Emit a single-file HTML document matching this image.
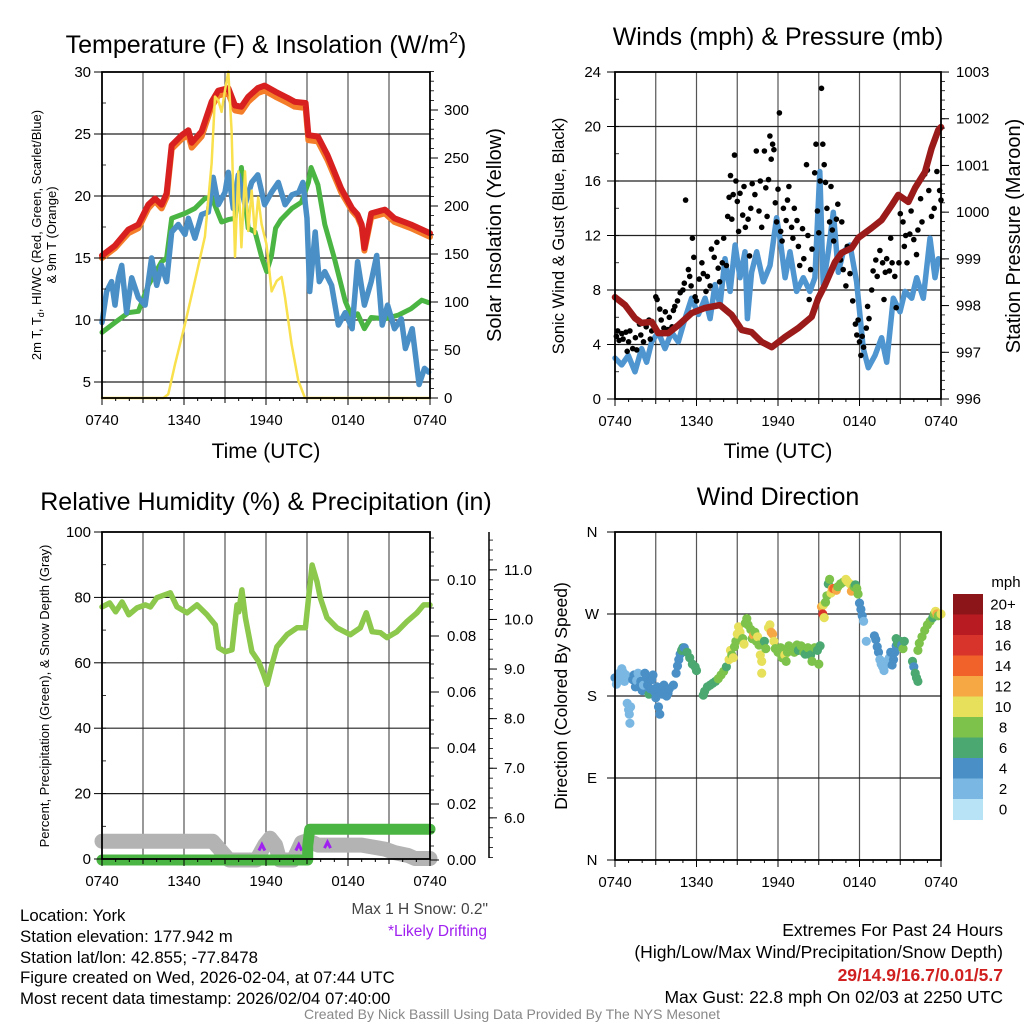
<!DOCTYPE html>
<html><head><meta charset="utf-8"><style>
html,body{margin:0;padding:0;background:#fff;}
svg{display:block;font-family:"Liberation Sans",Arial,sans-serif;}
</style></head><body>
<svg id="root" width="1024" height="1024" viewBox="0 0 1024 1024" xmlns="http://www.w3.org/2000/svg">
<rect x="0" y="0" width="1024" height="1024" fill="#fff"/>
<g id="g1"></g>
<g id="g2"></g>
<g id="g3"></g>
<g id="g4"></g>
<g id="gt">
<text x="266" y="53" font-size="25" text-anchor="middle">Temperature (F) &amp; Insolation (W/m<tspan dy="-10" font-size="16">2</tspan><tspan dy="10">)</tspan></text>
<text x="778" y="45" font-size="25" text-anchor="middle">Winds (mph) &amp; Pressure (mb)</text>
<text x="266" y="510" font-size="25" text-anchor="middle">Relative Humidity (%) &amp; Precipitation (in)</text>
<text x="778" y="505" font-size="25" text-anchor="middle">Wind Direction</text>
<text x="266" y="458" font-size="21" text-anchor="middle">Time (UTC)</text>
<text x="778" y="458" font-size="21" text-anchor="middle">Time (UTC)</text>
<text transform="translate(41,235) rotate(-90)" font-size="13" text-anchor="middle">2m T, T<tspan dy="3" font-size="9">d</tspan><tspan dy="-3">, HI/WC (Red, Green, Scarlet/Blue)</tspan></text>
<text transform="translate(56,235) rotate(-90)" font-size="13" text-anchor="middle">&amp; 9m T (Orange)</text>
<text transform="translate(501,235) rotate(-90)" font-size="20" text-anchor="middle">Solar Insolation (Yellow)</text>
<text transform="translate(564,236) rotate(-90)" font-size="16.5" text-anchor="middle">Sonic Wind &amp; Gust (Blue, Black)</text>
<text transform="translate(1020,236) rotate(-90)" font-size="20" text-anchor="middle">Station Pressure (Maroon)</text>
<text transform="translate(49,696) rotate(-90)" font-size="13" text-anchor="middle">Percent, Precipitation (Green), &amp; Snow Depth (Gray)</text>
<text transform="translate(567,696) rotate(-90)" font-size="17.5" text-anchor="middle">Direction (Colored By Speed)</text>
<text x="488" y="914" font-size="15.5" fill="#444" text-anchor="end">Max 1 H Snow: 0.2"</text>
<text x="487" y="936" font-size="15.5" fill="#a020f0" text-anchor="end">*Likely Drifting</text>
<g font-size="16.8">
<text x="20" y="921">Location: York</text>
<text x="20" y="942">Station elevation: 177.942 m</text>
<text x="20" y="963">Station lat/lon: 42.855; -77.8478</text>
<text x="20" y="983">Figure created on Wed, 2026-02-04, at 07:44 UTC</text>
<text x="20" y="1004">Most recent data timestamp: 2026/02/04 07:40:00</text>
</g>
<g font-size="17.5" text-anchor="end">
<text x="1003" y="936">Extremes For Past 24 Hours</text>
<text x="1003" y="958">(High/Low/Max Wind/Precipitation/Snow Depth)</text>
<text x="1003" y="981" font-weight="bold" fill="#d02020">29/14.9/16.7/0.01/5.7</text>
<text x="1003" y="1003">Max Gust: 22.8 mph On 02/03 at 2250 UTC</text>
</g>
<text x="512" y="1019" font-size="14" fill="#888" text-anchor="middle">Created By Nick Bassill Using Data Provided By The NYS Mesonet</text>
</g>
</svg>
<script>
// ---------- data ----------
const xTickLabels = ["0740","1340","1940","0140","0740"];
const tempTicks = [5,10,15,20,25,30];
const solarTicks = [0,50,100,150,200,250,300];
const windTicks = [0,4,8,12,16,20,24];
const pressTicks = [996,997,998,999,1000,1001,1002,1003];
const rhTicks = [0,20,40,60,80,100];
const precipTicks = [0,0.02,0.04,0.06,0.08,0.10];
const snowTicks = [6,7,8,9,10,11];
const dirLabels = ["N","E","S","W","N"];
const dirTicks = [0,90,180,270,360];
const cbarLabels = ["20+","18","16","14","12","10","8","6","4","2","0"];
const cbarColors = ["#8b1518","#b81c22","#d9342b","#f0622a","#f6a845","#e6e05a","#7dc24a","#4aa870","#4a8fc6","#7ab8e3","#b8e2f6"];

const redT = [0,0.95,1.93,2.66,3.39,3.88,4.36,4.73,5.1,5.83,6.32,6.56,7.29,8.02,8.51,9.24,9.73,10.2,10.7,11.4,11.9,12.7,13.6,14.1,14.9,15.1,15.8,16.5,17.5,18.3,18.7,19.0,19.2,19.7,20.7,21.4,22.6,23.8,24];
const redV = [15.2,16.0,17.3,17.7,19.3,19.8,19.3,20.2,24.1,24.9,25.3,24.3,25.2,27.6,28.5,28.7,27.3,27.2,28.0,28.7,28.9,28.4,27.9,27.6,27.5,24.9,24.8,23.3,20.6,19.0,18.5,17.7,15.8,18.6,18.9,18.2,17.7,17.1,17.0];
const orangeV = [15.0,15.8,17.0,17.4,19.0,19.6,19.0,19.9,23.8,24.6,24.9,23.9,24.8,27.2,28.1,28.3,26.9,26.8,27.6,28.3,28.5,28.0,27.5,27.2,27.1,24.5,24.4,22.9,20.3,18.8,18.3,17.5,15.6,18.3,18.6,17.9,17.4,16.8,16.7];
const greenT = [0,0.95,1.93,2.66,3.39,4.36,4.73,5.1,6.07,6.8,7.53,8.02,8.75,9.24,9.73,10.2,10.7,11.2,11.7,12.05,12.4,12.7,13.1,13.9,14.6,15.1,15.3,15.8,16.3,17.0,17.8,18.3,18.7,19.2,19.7,20.7,21.7,22.6,23.4,23.9];
const greenV = [9.0,9.8,10.6,10.7,12.8,14.7,15.0,18.2,18.6,19.0,19.8,19.9,17.9,18.1,18.2,22.3,17.4,17.1,15.0,13.9,15.2,17.4,18.1,19.0,19.5,21.1,22.3,20.9,17.7,15.0,11.5,10.2,10.5,9.3,10.2,10.1,10.4,10.9,11.6,11.4];
const blueT = [0,0.34,0.7,0.95,1.2,1.44,1.8,2.17,2.66,3.15,3.63,4.0,4.36,4.73,5.1,5.58,6.07,6.32,6.8,7.29,7.78,8.14,8.51,9.0,9.24,9.61,9.97,10.46,10.95,11.4,11.9,12.4,12.9,13.4,13.9,14.4,14.7,15.0,15.2,15.6,15.9,16.3,16.8,17.3,17.8,18.3,18.7,19.2,19.7,20.1,20.5,20.9,21.4,21.9,22.2,22.7,23.2,23.6,23.9];
const blueV = [9.8,12.3,13.1,11.2,13.4,14.4,10.6,13.4,11.8,11.2,15.0,12.8,14.4,13.1,17.1,17.7,16.9,18.2,16.6,18.5,18.7,21.5,19.3,20.3,21.9,19.0,21.7,19.3,21.1,21.7,19.3,20.3,21.1,19.3,20.1,20.3,21.1,18.2,12.3,17.1,13.1,13.9,12.8,9.6,10.6,9.3,14.7,11.2,13.1,15.2,9.6,11.2,9.3,10.1,7.7,9.3,4.8,6.1,5.8];
const solarT = [0,4.49,4.85,5.34,6.07,6.8,7.53,8.02,8.27,8.51,8.75,8.99,9.24,9.48,9.73,9.97,10.2,10.46,10.7,10.95,11.19,11.43,11.68,12.04,12.41,12.78,13.14,13.39,13.87,14.36,14.85,24];
const solarV = [0,0,4,35,77,122,168,244,314,310,298,320,340,278,147,236,157,236,174,216,171,209,181,160,111,122,126,105,56,18,0,0];

const windT = [0,0.49,0.98,1.47,1.96,2.33,2.7,3.19,3.68,4.17,4.66,5.15,5.64,6.14,6.63,7.0,7.36,7.73,8.1,8.47,8.84,9.2,9.57,9.75,10.06,10.43,10.92,11.41,11.9,12.15,12.52,12.88,13.37,13.86,14.35,14.72,15.08,15.33,15.7,16.07,16.44,16.81,17.3,17.79,18.28,18.65,19.14,19.63,20.0,20.49,20.98,21.35,21.84,22.21,22.7,23.19,23.56,23.81];
const windV = [3.0,2.5,3.2,2.0,3.7,2.7,4.2,4.9,3.7,4.9,4.2,5.9,7.4,6.2,7.4,5.9,8.4,6.9,10.3,7.9,11.3,8.9,10.8,5.9,9.3,10.8,8.6,9.8,13.3,11.8,8.9,10.8,7.9,8.9,7.9,8.9,16.7,8.4,10.8,13.7,9.3,10.8,11.3,8.6,3.7,2.3,3.2,4.5,2.7,7.4,6.4,7.9,7.4,8.9,7.4,11.8,8.9,10.3];
const pressT = [0,0.74,1.47,1.96,2.7,3.19,3.93,4.66,5.64,6.63,7.73,8.59,9.33,10.06,10.8,11.54,12.52,13.5,14.48,14.97,15.46,16.2,16.69,17.42,17.91,18.89,19.63,20.37,20.86,21.6,22.09,22.82,23.31,23.8,24];
const pressV = [998.18,998.01,997.73,997.63,997.65,997.41,997.41,997.58,997.84,997.95,998.01,997.8,997.48,997.43,997.22,997.11,997.33,997.52,997.76,998.16,998.44,998.93,999.13,999.23,999.45,999.66,999.83,1000.15,1000.37,1000.22,1000.52,1000.86,1001.37,1001.76,1001.82];
const gustT = [0.1,0.2,0.3,0.5,0.6,0.8,0.9,1.0,1.1,1.3,1.5,1.6,1.8,1.9,2.1,2.3,2.5,2.6,2.7,3.0,3.1,3.3,3.4,3.5,3.6,3.7,3.9,4.0,4.2,4.3,4.4,4.6,4.8,5.0,5.1,5.2,5.4,5.5,5.6,5.7,5.8,5.9,6.0,6.2,6.4,6.5,6.7,6.8,7.0,7.1,7.3,7.5,7.6,7.7,7.9,8.0,8.2,8.3,8.4,8.5,8.6,8.7,8.8,8.9,9.0,9.1,9.2,9.4,9.5,9.6,9.8,9.9,10.0,10.1,10.3,10.4,10.6,10.7,10.8,11.0,11.1,11.2,11.3,11.4,11.5,11.6,11.7,11.8,11.9,12.0,12.1,12.2,12.3,12.4,12.6,12.7,12.8,13.0,13.1,13.2,13.4,13.5,13.6,13.8,13.9,14.1,14.2,14.3,14.4,14.5,14.7,14.8,14.9,15.0,15.1,15.2,15.3,15.4,15.5,15.6,15.8,15.9,16.0,16.1,16.3,16.4,16.6,16.7,16.8,17.0,17.1,17.3,17.5,17.7,17.8,17.9,18.0,18.1,18.2,18.3,18.5,18.6,18.7,18.9,19.0,19.2,19.3,19.5,19.7,19.8,19.9,20.0,20.2,20.3,20.4,20.6,20.7,20.9,21.0,21.2,21.3,21.4,21.5,21.7,21.8,22.0,22.2,22.3,22.5,22.6,22.8,23.0,23.1,23.3,23.5,23.7,23.9,24.0];
const gustV = [4.6,5.0,4.3,4.8,4.4,4.9,3.5,4.2,5.0,3.7,4.5,3.6,5.5,4.7,4.2,5.3,5.8,4.4,5.0,7.5,7.3,6.6,5.8,4.8,5.2,6.4,5.1,6.0,5.3,6.5,6.8,7.2,7.8,8.0,8.5,14.6,9.5,9.0,8.3,11.8,10.4,7.5,7.2,8.8,10.0,9.2,7.9,9.0,8.3,11.0,10.4,11.5,9.6,8.6,10.0,11.8,9.8,13.4,14.8,16.4,13.2,15.0,17.9,16.0,14.5,12.3,15.1,13.5,15.6,12.6,13.2,10.5,14.0,15.8,15.0,18.2,13.8,16.0,12.6,18.2,15.5,13.4,16.1,19.3,17.6,18.7,18.3,14.4,13.0,15.4,21.0,12.3,11.6,14.0,13.1,14.6,15.6,12.6,11.8,14.0,13.1,11.2,9.8,12.5,10.3,17.2,12.0,7.3,9.5,11.0,16.6,18.7,13.8,12.2,16.0,22.8,18.7,17.2,15.9,14.0,13.0,15.6,12.4,11.6,13.2,14.3,10.2,13.0,9.5,8.3,11.2,9.2,7.2,5.5,4.7,5.8,4.2,3.2,4.6,3.8,5.2,6.8,5.9,8.0,9.4,10.2,9.0,10.9,10.0,7.3,9.3,10.3,9.4,11.8,10.0,9.0,6.7,10.0,13.6,13.0,11.2,12.0,10.0,12.1,13.8,11.7,10.6,12.4,14.7,13.0,16.5,16.8,15.3,13.4,14.0,16.7,15.3,14.6];

const rhT = [0,0.56,1.0,1.47,1.96,2.56,3.18,3.54,4.02,5.0,5.49,6.22,6.95,7.68,8.29,8.53,9.02,9.51,9.88,10.0,10.24,10.49,10.97,11.46,11.83,12.07,12.44,12.8,13.54,14.27,14.88,15.12,15.37,15.73,15.97,16.46,17.19,18.17,18.9,19.34,19.76,20.37,20.85,21.58,22.31,23.05,23.54,24];
const rhV = [77.1,78.3,75.6,78.6,74.7,76.8,77.7,77.1,79.9,81.4,77.1,75.3,77.7,74.7,71.6,64.6,63.4,64.0,77.7,75.6,82.3,73.8,63.4,60.4,56.4,53.4,59.5,64.9,68.6,70.7,70.7,79.9,89.9,84.8,79.9,73.8,70.7,68.6,70.7,75.3,69.5,69.2,67.7,69.5,72.6,75.3,77.7,77.7];
const precipT = [0,15.05,15.05,15.2,24];
const precipV = [0,0,0.005,0.011,0.011];
const snowT = [0,8.1,9.3,11.3,11.9,12.3,12.7,13.0,14.0,14.6,14.9,15.4,15.8,17.0,19.0,20.7,21.4,22.4,22.9,24];
const snowV = [5.53,5.53,5.15,5.15,5.45,5.59,5.45,5.15,5.15,5.5,5.53,5.5,5.45,5.45,5.45,5.37,5.3,5.24,5.18,5.18];
const driftT = [11.7,14.4,16.5];
const driftV = [5.42,5.42,5.47];

const dirT = [0.0,0.1,0.3,0.4,0.5,0.6,0.7,0.8,0.9,1.0,1.05,1.1,1.15,1.3,1.4,1.5,1.6,1.7,1.8,1.9,2.0,2.1,2.2,2.3,2.4,2.5,2.6,2.7,2.8,2.9,3.0,3.1,3.2,3.3,3.4,3.5,3.6,3.7,3.8,3.9,4.0,4.3,4.5,4.6,4.7,4.8,4.9,5.0,5.1,5.3,5.5,5.7,5.9,6.0,6.5,6.6,6.8,7.0,7.2,7.4,7.6,7.8,8.0,8.2,8.4,8.5,8.6,8.7,8.8,8.9,9.0,9.1,9.2,9.4,9.5,9.6,9.7,9.8,10.0,10.1,10.2,10.3,10.4,10.5,10.6,10.7,10.8,10.8,11.0,11.1,11.3,11.4,11.5,11.6,11.7,11.8,12.0,12.2,12.3,12.5,12.6,12.7,12.8,13.0,13.2,13.4,13.5,13.7,13.9,14.0,14.2,14.4,14.5,14.7,14.9,15.0,15.1,15.2,15.3,15.35,15.4,15.5,15.6,15.7,15.8,15.9,16.0,16.1,16.3,16.4,16.6,16.8,17.0,17.1,17.3,17.4,17.6,17.7,17.8,17.9,18.0,18.1,18.2,18.3,18.5,19.1,19.2,19.3,19.4,19.5,19.6,19.7,19.8,19.9,20.0,20.2,20.3,20.4,20.5,20.6,20.7,20.7,20.8,21.0,21.1,21.2,21.3,21.9,22.0,22.1,22.2,22.3,22.3,22.4,22.6,22.8,23.0,23.2,23.4,23.5,23.6,23.7,23.8,24.0];
const dirV = [200,193,205,199,210,206,196,203,172,165,160,150,168,198,203,190,197,205,190,196,186,192,205,200,192,182,188,198,203,185,178,190,168,160,185,182,192,186,180,183,188,192,205,213,220,226,230,233,233,228,222,215,212,208,181,185,190,192,194,196,199,203,207,212,220,230,225,222,234,240,248,256,250,243,237,260,265,258,253,243,247,250,240,245,236,225,218,205,240,232,255,258,250,248,240,232,228,233,222,225,218,228,235,232,228,236,230,235,228,226,233,225,218,233,230,215,235,278,270,280,266,283,290,303,308,293,298,298,296,300,303,305,308,306,303,295,300,302,298,292,282,275,268,262,240,246,242,234,228,220,215,212,208,214,218,222,228,214,220,228,235,243,238,240,236,232,240,218,212,205,200,196,230,238,245,252,258,262,266,270,273,270,268,270];
const dirSpd = [5,3,3,3,3,3,3,3,3,3,3,3,3,5,5,5,3,3,5,5,5,3,5,5,5,7,5,5,5,5,5,5,5,5,5,5,5,5,5,5,5,5,5,5,5,5,7,7,5,7,7,7,7,7,7,7,7,7,7,7,9,9,9,7,11,11,9,11,9,9,11,11,11,9,11,9,9,9,9,9,13,9,9,11,9,11,11,11,7,9,11,11,13,13,11,9,9,9,9,11,9,9,9,9,9,9,7,9,9,7,9,7,9,9,7,9,7,13,17,11,11,9,9,7,9,11,13,15,13,9,9,9,11,11,11,13,9,7,9,9,5,5,5,3,3,5,5,5,5,3,3,3,3,3,3,3,5,5,5,5,5,7,7,7,5,9,7,7,5,7,7,7,9,9,9,9,9,9,7,9,11,13,9,11];

// ---------- helpers ----------
const NS = "http://www.w3.org/2000/svg";
function mk(parent, tag, attrs) {
  const el = document.createElementNS(NS, tag);
  for (const k in attrs) el.setAttribute(k, attrs[k]);
  parent.appendChild(el);
  return el;
}
function pathD(xs, ys) {
  let d = "";
  for (let i = 0; i < xs.length; i++) d += (i ? "L" : "M") + xs[i].toFixed(1) + "," + ys[i].toFixed(1);
  return d;
}
function drawLine(g, T, V, fx, fy, color, w, name, cap) {
  const p = mk(g, "path", {d: pathD(T.map(fx), V.map(fy)), fill: "none", stroke: color, "stroke-width": w, "stroke-linejoin": "round", "stroke-linecap": cap || "round"});
  
  
  return p;
}
function frame(g, L, R, T, B, vlines, hlines, name) {
  vlines.forEach(x => {
    const l = mk(g, "line", {x1: x, x2: x, y1: T, y2: B, stroke: "#555", "stroke-width": 1.2});
    
    
  });
  hlines.forEach(y => {
    const l = mk(g, "line", {x1: L, x2: R, y1: y, y2: y, stroke: "#222", "stroke-width": 1.2});
    
    
  });
}
function border(g, L, R, T, B, name) {
  const r = mk(g, "rect", {x: L, y: T, width: R - L, height: B - T, fill: "none", stroke: "#000", "stroke-width": 1.8});
  
  
}
function xAxis(g, L, R, B, name) {
  for (let h = 0; h <= 24; h += 1) {
    const x = L + h * (R - L) / 24;
    const len = h % 6 === 0 ? 7 : (h % 3 === 0 ? 5 : 3);
    mk(g, "line", {x1: x, x2: x, y1: B, y2: B + len, stroke: "#000", "stroke-width": 1});
  }
  xTickLabels.forEach((s, i) => {
    const t = mk(g, "text", {x: L + i * 6 * (R - L) / 24, y: B + 27, "font-size": 15, "text-anchor": "middle"});
    t.textContent = s;
    
    
  });
}
function yAxisLabels(g, ticks, fy, x, anchor, fmt, name, tickX1, tickX2) {
  ticks.forEach(v => {
    const y = fy(v);
    mk(g, "line", {x1: tickX1, x2: tickX2, y1: y, y2: y, stroke: "#000", "stroke-width": 1});
    const t = mk(g, "text", {x: x, y: y + 5, "font-size": 15, "text-anchor": anchor});
    t.textContent = fmt(v);
    
    
  });
}
function minor(g, from, to, step, fy, x1, x2) {
  for (let v = from; v <= to + 1e-9; v += step) {
    const y = fy(v);
    mk(g, "line", {x1: x1, x2: x2, y1: y, y2: y, stroke: "#000", "stroke-width": 0.8});
  }
}

// ---------- panel 1 ----------
(function(){
  const g = document.getElementById("g1");
  const L = 102, R = 430, T = 72, B = 398;
  const xs = t => L + t * (R - L) / 24;
  const yT = v => T + (30 - v) * 12.4;
  const yS = v => B - v * 0.96;
  frame(g, L, R, T, B, [3,6,9,12,15,18,21].map(xs), [5,10,15,20,25].map(yT), "temp");
  drawLine(g, redT, orangeV, xs, yT, "#f47d2a", 6, "orange-9m-temp-line");
  drawLine(g, redT, redV, xs, yT, "#d7201f", 6, "red-2m-temp-line");
  drawLine(g, greenT, greenV, xs, yT, "#4bb543", 5, "green-dewpoint-line");
  drawLine(g, blueT, blueV, xs, yT, "#4a8fc6", 5.5, "blue-windchill-line");
  drawLine(g, solarT, solarV, xs, yS, "#f9e04d", 2.5, "yellow-solar-line");
  border(g, L, R, T, B, "temp-plot-frame");
  xAxis(g, L, R, B, "temp");
  yAxisLabels(g, tempTicks, yT, L - 11, "end", v => String(v), "temp-y", L - 8, L);
  minor(g, 5, 30, 2.5, yT, L, L + 4);
  yAxisLabels(g, solarTicks, yS, R + 14, "start", v => String(v), "solar-y", R, R + 8);
  minor(g, 0, 340, 10, yS, R, R + 4);
})();

// ---------- panel 2 ----------
(function(){
  const g = document.getElementById("g2");
  const L = 615, R = 941, T = 72, B = 399;
  const xs = t => L + t * (R - L) / 24;
  const yW = v => B - v * 13.625;
  const yP = v => B - (v - 996) * 46.71;
  frame(g, L, R, T, B, [3,6,9,12,15,18,21].map(xs), [4,8,12,16,20].map(yW), "winds");
  drawLine(g, windT, windV, xs, yW, "#4f95d0", 5.5, "blue-sonic-wind-line");
  gustT.forEach((t, i) => {
    const c = mk(g, "circle", {cx: xs(t).toFixed(1), cy: yW(gustV[i]).toFixed(1), r: 2.8, fill: "#000"});
    
    
  });
  drawLine(g, pressT, pressV, xs, yP, "#9b1a1a", 6.5, "maroon-pressure-line");
  border(g, L, R, T, B, "winds-plot-frame");
  xAxis(g, L, R, B, "winds");
  yAxisLabels(g, windTicks, yW, L - 14, "end", v => String(v), "wind-y", L - 8, L);
  minor(g, 0, 24, 2, yW, L, L + 4);
  yAxisLabels(g, pressTicks, yP, R + 15, "start", v => String(v), "pressure-y", R, R + 8);
  minor(g, 996, 1003, 0.2, yP, R, R + 4);
})();

// ---------- panel 3 ----------
(function(){
  const g = document.getElementById("g3");
  const L = 102, R = 430, T = 532, B = 859;
  const xs = t => L + t * (R - L) / 24;
  const yR = v => B - v * 3.27;
  const yPr = v => 860 - v * 2800;
  const ySn = v => 860 - (v - 5.15) * 49.6;
  frame(g, L, R, T, B, [3,6,9,12,15,18,21].map(xs), [20,40,60,80].map(yR), "humidity");
  drawLine(g, snowT, snowV, xs, ySn, "#b3b3b3", 15, "gray-snow-depth-line");
  driftT.forEach((t, i) => {
    const x = xs(t), y = ySn(driftV[i]);
    const p = mk(g, "path", {d: `M${x-3},${y+4}L${x},${y-2}L${x+3},${y+4}`, fill: "none", stroke: "#a020f0", "stroke-width": 3});
    
    
  });
  drawLine(g, rhT, rhV, xs, yR, "#8cc84b", 5.5, "green-humidity-line");
  drawLine(g, precipT, precipV, xs, yPr, "#4bb543", 11, "green-precipitation-line");
  border(g, L, R, T, B, "humidity-plot-frame");
  xAxis(g, L, R, B, "humidity");
  yAxisLabels(g, rhTicks, yR, L - 11, "end", v => String(v), "rh-y", L - 8, L);
  minor(g, 0, 100, 10, yR, L, L + 4);
  yAxisLabels(g, precipTicks, yPr, R + 17, "start", v => v.toFixed(2), "precip-y", R, R + 9);
  minor(g, 0, 0.115, 0.005, yPr, R, R + 4);
  const ax = mk(g, "line", {x1: 489, x2: 489, y1: 532, y2: 858, stroke: "#000", "stroke-width": 1.5});
  
  
  yAxisLabels(g, snowTicks, ySn, 504, "start", v => v.toFixed(1), "snow-y", 489, 497);
  minor(g, 5.2, 11.6, 0.2, ySn, 489, 493);
})();

// ---------- panel 4 ----------
(function(){
  const g = document.getElementById("g4");
  const L = 615, R = 941, T = 532, B = 860;
  const xs = t => L + t * (R - L) / 24;
  const yD = v => B - v * (B - T) / 360;
  frame(g, L, R, T, B, [3,6,9,12,15,18,21].map(xs), [90,180,270].map(yD), "direction");
  const bins = [2,4,6,8,10,12,14,16,18,20];
  const colorFor = s => { let k = 0; while (k < bins.length && s >= bins[k]) k++; return cbarColors[10 - k]; };
  dirT.forEach((t, i) => {
    const c = mk(g, "circle", {cx: xs(t).toFixed(1), cy: yD(dirV[i]).toFixed(1), r: 4.6, fill: colorFor(dirSpd[i])});
    
    
  });
  border(g, L, R, T, B, "direction-plot-frame");
  xAxis(g, L, R, B, "direction");
  dirTicks.forEach((d, i) => {
    const y = yD(d);
    mk(g, "line", {x1: L - 8, x2: L, y1: y, y2: y, stroke: "#000", "stroke-width": 1});
    const t = mk(g, "text", {x: L - 23, y: y + 5, "font-size": 15, "text-anchor": "middle"});
    t.textContent = dirLabels[i];
    
    
  });
  const cb = mk(g, "g", {});
  
  
  const top = 594, h = 20.5;
  cbarColors.forEach((c, i) => {
    const r = mk(cb, "rect", {x: 953, y: top + i * h, width: 30, height: h + 0.5, fill: c});
    
    
    const t = mk(cb, "text", {x: 1003, y: top + i * h + h / 2 + 5, "font-size": 15, "text-anchor": "middle"});
    t.textContent = cbarLabels[i];
    
    
  });
  const u = mk(cb, "text", {x: 1006, y: 587, "font-size": 15, "text-anchor": "middle"});
  u.textContent = "mph";
  
  
})();
</script>
</body></html>
